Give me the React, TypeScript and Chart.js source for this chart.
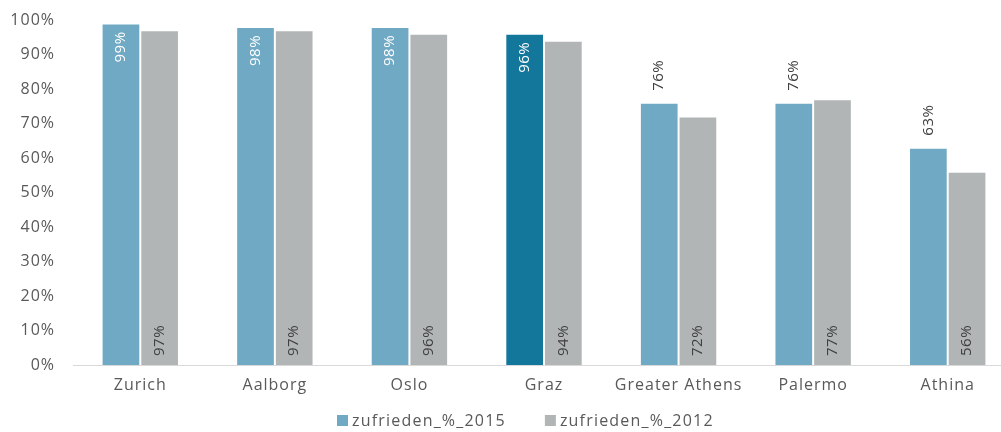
import React, { useEffect, useRef } from "react";
import { Chart, registerables } from "chart.js";

Chart.register(...registerables);

const categories = ["Zurich", "Aalborg", "Oslo", "Graz", "Greater Athens", "Palermo", "Athina"];
const values2015 = [99, 98, 98, 96, 76, 76, 63];
const values2012 = [97, 97, 96, 94, 72, 77, 56];
const seriesLabels = ["zufrieden_%_2015", "zufrieden_%_2012"];
const highlightCategory = "Graz";

const FONT = "'Open Sans', 'DejaVu Sans', sans-serif";
const C2015 = "#70A9C4";
const C2015_HL = "#13769B";
const C2012 = "#B1B5B6";
const TEXT = "#595959";
const LABEL_DARK = "#404040";

const spacingPlugin = {
  id: "letterSpacing",
  beforeInit(chart: any) {
    chart.ctx.letterSpacing = "1px";
  },
  beforeUpdate(chart: any) {
    chart.ctx.letterSpacing = "1px";
  },
  beforeDraw(chart: any) {
    chart.ctx.letterSpacing = "1px";
  },
};

const labelPlugin = {
  id: "barLabels",
  afterDatasetsDraw(chart: any) {
    const ctx = chart.ctx;
    const yScale = chart.scales.y;
    const base = yScale.getPixelForValue(0);
    ctx.save();
    ctx.font = `15px ${FONT}`;
    ctx.letterSpacing = "0.5px";
    ctx.textBaseline = "middle";
    chart.data.datasets.forEach((ds: any, di: number) => {
      const meta = chart.getDatasetMeta(di);
      meta.data.forEach((bar: any, i: number) => {
        const v = ds.data[i];
        const txt = `${v}%`;
        const x = bar.x;
        const top = bar.y;
        ctx.save();
        if (di === 0) {
          if (v >= 90) {
            ctx.translate(x, top + 8);
            ctx.rotate(-Math.PI / 2);
            ctx.textAlign = "right";
            ctx.fillStyle = "#FFFFFF";
          } else {
            ctx.translate(x, top - 12);
            ctx.rotate(-Math.PI / 2);
            ctx.textAlign = "left";
            ctx.fillStyle = LABEL_DARK;
          }
        } else {
          ctx.translate(x, base - 9);
          ctx.rotate(-Math.PI / 2);
          ctx.textAlign = "left";
          ctx.fillStyle = LABEL_DARK;
        }
        ctx.fillText(txt, 0, 0);
        ctx.restore();
      });
    });
    ctx.restore();
  },
};

const legendPlugin = {
  id: "customLegend",
  afterDraw(chart: any) {
    const ctx = chart.ctx;
    ctx.save();
    ctx.font = `16px ${FONT}`;
    ctx.letterSpacing = "1.2px";
    ctx.textBaseline = "middle";
    ctx.textAlign = "left";
    const y = 421;
    let x = 337;
    const colors = [C2015, C2012];
    chart.data.datasets.forEach((ds: any, i: number) => {
      ctx.fillStyle = colors[i];
      ctx.fillRect(x, y - 6, 11, 11);
      ctx.fillStyle = TEXT;
      ctx.fillText(ds.label, x + 15, y);
      x += 15 + ctx.measureText(ds.label).width + 39;
    });
    ctx.restore();
  },
};

export default function App() {
  const ref = useRef<HTMLCanvasElement | null>(null);

  useEffect(() => {
    document.documentElement.style.overflow = "hidden";
    document.body.style.overflow = "hidden";
    const canvas = ref.current;
    if (!canvas) return;
    const chart = new Chart(canvas, {
      type: "bar",
      data: {
        labels: categories,
        datasets: [
          {
            label: seriesLabels[0],
            data: values2015,
            backgroundColor: categories.map((c) => (c === highlightCategory ? C2015_HL : C2015)),
            borderColor: "rgba(255,255,255,0.45)",
            borderWidth: 1,
          },
          {
            label: seriesLabels[1],
            data: values2012,
            backgroundColor: C2012,
            borderColor: "rgba(255,255,255,0.45)",
            borderWidth: 1,
          },
        ],
      },
      options: {
        responsive: false,
        animation: false,
        maintainAspectRatio: false,
        layout: { padding: { top: 20, left: 0, right: 0, bottom: 0 } },
        datasets: {
          bar: { categoryPercentage: 0.575, barPercentage: 1 },
        },
        plugins: {
          legend: { display: false },
          tooltip: { enabled: false },
        },
        scales: {
          x: {
            grid: { display: false, drawTicks: false },
            border: { display: true, color: "#D9D9D9", width: 1 },
            ticks: { color: TEXT, font: { family: FONT, size: 16 }, padding: 11, maxRotation: 0, autoSkip: false },
            afterFit(scale: any) {
              scale.height = 67;
              scale.paddingLeft = 0;
              scale.paddingRight = 0;
            },
          },
          y: {
            min: 0,
            max: 100,
            grid: { display: false, drawTicks: false },
            border: { display: false },
            ticks: {
              stepSize: 10,
              color: TEXT,
              font: { family: FONT, size: 16 },
              padding: 18,
              callback: (v: any) => `${v}%`,
            },
            afterFit(scale: any) {
              scale.width = 73;
              scale.paddingTop = 0;
              scale.paddingBottom = 0;
            },
          },
        },
      },
      plugins: [spacingPlugin, labelPlugin, legendPlugin],
    });
    return () => chart.destroy();
  }, []);

  return (
    <div style={{ position: "absolute", left: 0, top: 0, width: 1015, height: 432 }}>
      <canvas ref={ref} width={1015} height={432} style={{ display: "block" }} />
    </div>
  );
}
